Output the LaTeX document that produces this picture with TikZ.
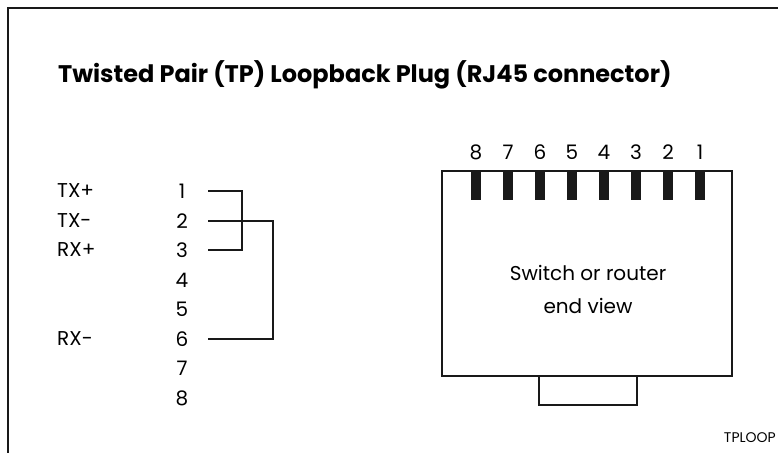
\documentclass[tikz,border=0pt]{standalone}
\usepackage{fontspec}
\setmainfont{Poppins}
\begin{document}
\begin{tikzpicture}[x=1pt,y=-1pt,
  line/.style={line width=2pt, black!90},
  txt/.style={inner sep=0pt, font=\fontsize{20}{22}\selectfont},
  pin/.style={fill=black!90, draw=none}]
\useasboundingbox (0,0) rectangle (778,452);
% outer frame
\draw[line] (8,460) -- (8,8.5) -- (790,8.5);
% title
\node[inner sep=0pt, anchor=west, font=\bfseries\fontsize{24}{26}\selectfont] (title) at (58,75) {Twisted Pair (TP) Loopback Plug (RJ45 connector)};
% left side pin list
\foreach \i/\y in {1/191,2/221,3/250,4/280,5/309,6/339,7/368,8/398}{
  \node[txt] (n\i) at (182,\y) {\i};
  \coordinate (e\i) at (208,\y);
}
\node[txt, anchor=west] (tp) at (57,191) {TX+};
\node[txt, anchor=west] (tm) at (57,221) {TX-};
\node[txt, anchor=west] (rp) at (57,250) {RX+};
\node[txt, anchor=west] (rm) at (57,339) {RX-};
% loops
\draw[line] (e1) -- (242,191) -- (242,250) -- (e3);
\draw[line] (e2) -- (273,221) -- (273,339) -- (e6);
% connector body
\draw[line] (442,171) rectangle (732,376);
\draw[line] (539,376) rectangle (637,405);
\foreach \i [evaluate=\i as \x using {700-32*(\i-1)}] in {1,...,8}{
  \fill[pin] (\x-5,171) rectangle (\x+5,200);
  \node[txt] (p\i) at (\x,152) {\i};
}
\node[txt, align=center, font=\fontsize{20}{33}\selectfont] (sw) at (588,289) {Switch or router\\end view};
\node[inner sep=0pt, anchor=east, font=\fontsize{14}{16}\selectfont] (tag) at (776,438) {TPLOOP};
\end{tikzpicture}
\end{document}
